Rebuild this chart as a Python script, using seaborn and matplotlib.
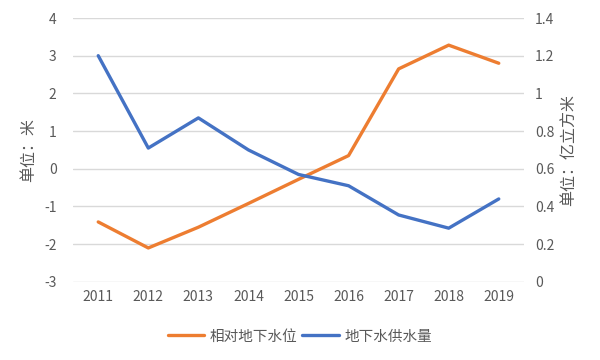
import numpy as np
import pandas as pd
import matplotlib
matplotlib.use("Agg")
import matplotlib.pyplot as plt
import seaborn as sns
from matplotlib.lines import Line2D

years = [2011, 2012, 2013, 2014, 2015, 2016, 2017, 2018, 2019]
water_level = [-1.41, -2.10, -1.55, -0.92, -0.28, 0.35, 2.65, 3.28, 2.80]
water_supply = [1.20, 0.71, 0.87, 0.70, 0.57, 0.51, 0.355, 0.285, 0.44]

sns.set_theme(style="white")
plt.rcParams['font.family'] = ['Noto Sans CJK SC', 'DejaVu Sans']
plt.rcParams['axes.unicode_minus'] = False

orange = "#ED7D31"
blue = "#4472C4"
grey = "#595959"

df = pd.DataFrame({"year": years, "level": water_level, "supply": water_supply})

fig = plt.figure(figsize=(6, 3.6), dpi=100)
ax = fig.add_axes([0.122, 0.217, 0.751, 0.733])
ax2 = ax.twinx()

sns.lineplot(data=df, x="year", y="level", ax=ax, color=orange, linewidth=2.4)
sns.lineplot(data=df, x="year", y="supply", ax=ax2, color=blue, linewidth=2.4)

ax.set_xlim(2010.5, 2019.5)
ax.set_ylim(-3, 4)
ax2.set_ylim(0, 1.4)
ax.set_xticks(years)
ax.set_xticklabels([str(y) for y in years])
ax.set_yticks(range(-3, 5))
ax2.set_yticks([0, 0.2, 0.4, 0.6, 0.8, 1.0, 1.2, 1.4])
ax2.set_yticklabels(["0", "0.2", "0.4", "0.6", "0.8", "1", "1.2", "1.4"])

ax.grid(axis="y", color="#D9D9D9", linewidth=1)
ax.set_axisbelow(True)
for a in (ax, ax2):
    for s in a.spines.values():
        s.set_visible(False)
    a.tick_params(length=0, labelsize=10, colors=grey)
ax.tick_params(axis="x", pad=6)
ax.tick_params(axis="y", pad=12)
ax2.tick_params(axis="y", pad=8)

ax.set_xlabel("")
ax.set_ylabel("单位：米", color=grey, fontsize=11.5)
ax2.set_ylabel("单位：亿立方米", color=grey, fontsize=11.5)
ax.yaxis.set_label_coords(-0.080, 0.5)
ax2.yaxis.set_label_coords(1.082, 0.5)

handles = [Line2D([], [], color=orange, linewidth=2.4),
           Line2D([], [], color=blue, linewidth=2.4)]
fig.legend(handles, ["相对地下水位", "地下水供水量"], loc="center",
           bbox_to_anchor=(0.5, 0.065), ncol=2, frameon=False,
           fontsize=10.5, labelcolor=grey, handlelength=2.5,
           handletextpad=0.4, columnspacing=0.3)

fig.savefig("out.png", dpi=100)
